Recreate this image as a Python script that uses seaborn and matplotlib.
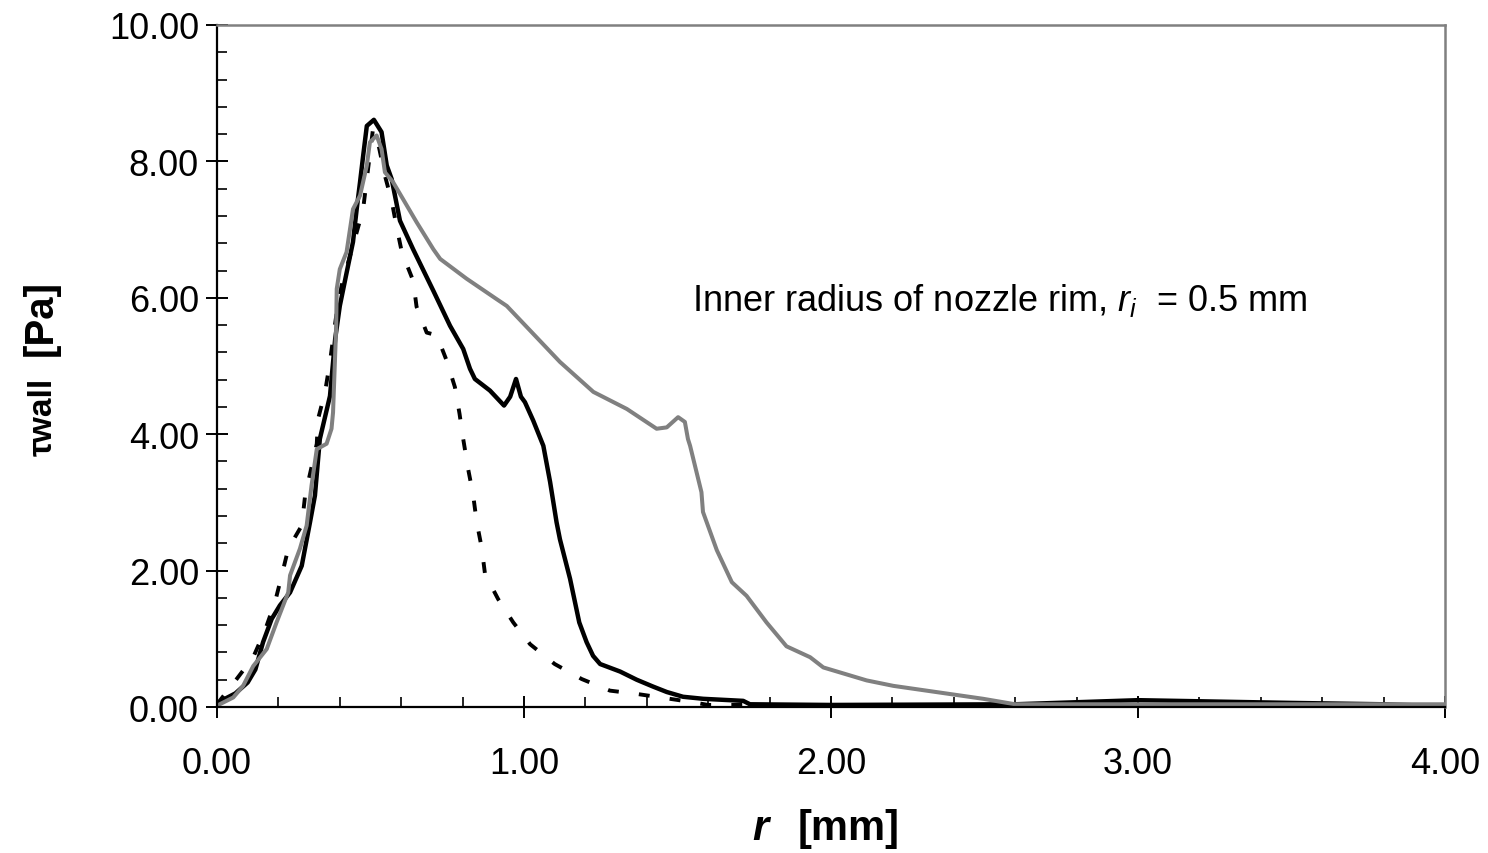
import numpy as np
import pandas as pd
import matplotlib
matplotlib.use("Agg")
import matplotlib.pyplot as plt
from matplotlib.ticker import MultipleLocator, FormatStrFormatter
import seaborn as sns

# Wall shear stress profiles along the impingement plate
r_black = [0.00, 0.03, 0.06, 0.10, 0.125, 0.15, 0.178, 0.205, 0.238, 0.276, 0.303, 0.319,
           0.335, 0.368, 0.385, 0.40, 0.42, 0.443, 0.455, 0.466, 0.476, 0.488, 0.511, 0.536,
           0.553, 0.569, 0.596, 0.639, 0.705, 0.759, 0.802, 0.824, 0.84, 0.889, 0.935, 0.955,
           0.974, 0.99, 1.003, 1.03, 1.063, 1.085, 1.106, 1.117, 1.15, 1.18, 1.204, 1.225,
           1.248, 1.313, 1.367, 1.42, 1.465, 1.518, 1.584, 1.714, 1.736, 2.00, 2.60, 3.00,
           3.50, 3.80, 4.00]
tau_black = [0.05, 0.13, 0.20, 0.36, 0.55, 0.95, 1.29, 1.49, 1.68, 2.07, 2.71, 3.10,
             3.93, 4.56, 5.40, 5.88, 6.32, 6.82, 7.30, 7.70, 8.08, 8.52, 8.61, 8.43,
             7.94, 7.74, 7.13, 6.71, 6.10, 5.59, 5.25, 4.96, 4.81, 4.64, 4.42, 4.55,
             4.81, 4.55, 4.47, 4.20, 3.83, 3.30, 2.71, 2.46, 1.88, 1.24, 0.95, 0.75,
             0.63, 0.52, 0.40, 0.30, 0.22, 0.15, 0.12, 0.09, 0.04, 0.03, 0.04, 0.10,
             0.06, 0.04, 0.01]

r_gray = [0.00, 0.053, 0.085, 0.118, 0.162, 0.194, 0.232, 0.238, 0.27, 0.292, 0.308, 0.325,
          0.357, 0.373, 0.378, 0.384, 0.388, 0.39, 0.40, 0.422, 0.443, 0.466, 0.488, 0.498,
          0.52, 0.536, 0.547, 0.573, 0.65, 0.705, 0.727, 0.813, 0.911, 0.944, 1.117, 1.226,
          1.335, 1.432, 1.465, 1.502, 1.524, 1.534, 1.541, 1.578, 1.583, 1.628, 1.677, 1.725,
          1.79, 1.855, 1.932, 1.975, 2.116, 2.203, 2.388, 2.496, 2.60, 3.00, 3.50, 4.00]
tau_gray = [0.02, 0.14, 0.31, 0.60, 0.85, 1.24, 1.68, 1.93, 2.32, 2.66, 3.25, 3.78,
            3.86, 4.08, 4.32, 5.06, 5.54, 6.13, 6.42, 6.67, 7.30, 7.50, 7.94, 8.28,
            8.38, 8.18, 7.84, 7.70, 7.11, 6.71, 6.57, 6.28, 5.98, 5.88, 5.06, 4.62,
            4.37, 4.08, 4.10, 4.25, 4.18, 3.93, 3.83, 3.15, 2.86, 2.30, 1.83, 1.63,
            1.24, 0.89, 0.73, 0.58, 0.39, 0.31, 0.19, 0.12, 0.04, 0.04, 0.04, 0.04]

r_dot = [0.00, 0.064, 0.118, 0.156, 0.189, 0.211, 0.232, 0.276, 0.287, 0.325, 0.329, 0.352,
         0.368, 0.378, 0.39, 0.406, 0.455, 0.476, 0.488, 0.508, 0.528, 0.547, 0.569, 0.585,
         0.602, 0.639, 0.65, 0.683, 0.716, 0.748, 0.775, 0.79, 0.802, 0.818, 0.834, 0.846,
         0.862, 0.873, 0.916, 0.965, 1.02, 1.10, 1.188, 1.28, 1.37, 1.46, 1.55, 1.60,
         2.00, 3.00, 4.00]
tau_dot = [0.04, 0.41, 0.73, 1.12, 1.54, 1.93, 2.32, 2.66, 3.10, 3.86, 4.22, 4.62,
           5.06, 5.40, 5.79, 6.18, 6.96, 7.30, 7.74, 8.47, 8.20, 7.79, 7.42, 7.04,
           6.67, 6.25, 5.87, 5.49, 5.45, 5.08, 4.69, 4.30, 3.93, 3.49, 3.12, 2.71,
           2.34, 1.95, 1.58, 1.24, 0.92, 0.63, 0.41, 0.24, 0.19, 0.13, 0.07, 0.03,
           0.03, 0.03, 0.02]

x_ticks = [0.0, 1.0, 2.0, 3.0, 4.0]
y_ticks = [0.0, 2.0, 4.0, 6.0, 8.0, 10.0]

sns.set_theme(style="white")
plt.rcParams["font.family"] = ["Liberation Sans", "DejaVu Sans"]
plt.rcParams["text.color"] = "black"
plt.rcParams["xtick.color"] = "black"
plt.rcParams["ytick.color"] = "black"
plt.rcParams["xtick.labelcolor"] = "black"
plt.rcParams["ytick.labelcolor"] = "black"
plt.rcParams["mathtext.fontset"] = "custom"
plt.rcParams["mathtext.rm"] = "Liberation Sans"
plt.rcParams["mathtext.it"] = "Liberation Sans:italic"
plt.rcParams["mathtext.bf"] = "Liberation Sans:bold"

W, H = 1488, 854
fig = plt.figure(figsize=(W / 100, H / 100), dpi=100)
ax = fig.add_axes([217 / W, 1 - 708 / H, (1445 - 217) / W, (708 - 26) / H])
ax.set_facecolor("white")

df_dot = pd.DataFrame({"r": r_dot, "tau": tau_dot})
df_black = pd.DataFrame({"r": r_black, "tau": tau_black})
df_gray = pd.DataFrame({"r": r_gray, "tau": tau_gray})

sns.lineplot(data=df_dot, x="r", y="tau", ax=ax, sort=False, estimator=None,
             color="black", linewidth=2.8, linestyle=(0, (2.8, 5.2)))
sns.lineplot(data=df_black, x="r", y="tau", ax=ax, sort=False, estimator=None,
             color="black", linewidth=3.2)
sns.lineplot(data=df_gray, x="r", y="tau", ax=ax, sort=False, estimator=None,
             color="#808080", linewidth=2.9)

ax.set_xlim(0, 4)
ax.set_ylim(0, 10)
ax.set_xticks(x_ticks)
ax.set_yticks(y_ticks)
ax.xaxis.set_minor_locator(MultipleLocator(0.2))
ax.yaxis.set_minor_locator(MultipleLocator(0.4))
ax.xaxis.set_major_formatter(FormatStrFormatter("%.2f"))
ax.yaxis.set_major_formatter(FormatStrFormatter("%.2f"))
ax.grid(False)

for side in ["left", "bottom"]:
    ax.spines[side].set_color("black")
    ax.spines[side].set_linewidth(1.6)
for side in ["top", "right"]:
    ax.spines[side].set_color("#808080")
    ax.spines[side].set_linewidth(1.8)

ax.tick_params(axis="x", which="major", direction="inout", length=16, width=1.4,
               color="black", labelsize=26, pad=20, bottom=True, top=False)
ax.tick_params(axis="y", which="major", direction="inout", length=16, width=1.4,
               color="black", labelsize=26, pad=5, left=True, right=False)
ax.tick_params(axis="x", which="minor", direction="in", length=7, width=1.2,
               color="black", bottom=True, top=False)
ax.tick_params(axis="y", which="minor", direction="in", length=7, width=1.2,
               color="black", left=True, right=False)

ax.set_xlabel("")
ax.set_ylabel("")

ax.text(1.547, 5.82, r"Inner radius of nozzle rim, $r_{i}$  = 0.5 mm",
        fontsize=26, color="black", ha="left", va="baseline")

# axis titles
fig.text(752 / W, 1 - 840 / H, "r", fontsize=30, fontweight="bold", fontstyle="italic",
         ha="left", va="baseline", color="black")
fig.text(798 / W, 1 - 840 / H, "[mm]", fontsize=30, fontweight="bold",
         ha="left", va="baseline", color="black")
fig.text(52 / W, 1 - 417 / H, "\u03c4wall", fontsize=24, fontweight="bold",
         rotation=90, rotation_mode="anchor", ha="center", va="baseline", color="black")
fig.text(52 / W, 1 - 318 / H, "[Pa]", fontsize=29, fontweight="bold",
         rotation=90, rotation_mode="anchor", ha="center", va="baseline", color="black")

fig.savefig("out.png", dpi=100, facecolor="white")
